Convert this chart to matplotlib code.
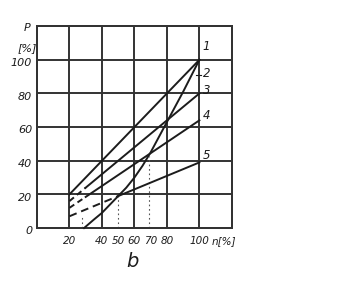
import matplotlib
matplotlib.use("Agg")
import matplotlib.pyplot as plt

# values
n_ends = [20, 30, 50, 100]
p1 = [20, 30, 50, 100]
p3 = [16, 24, 40, 80]
p4 = [12, 18.5, 31.5, 64]
p5 = [7, 11, 19, 39]

n2 = [29, 35, 40, 45, 50, 55, 60, 65, 70, 80, 90, 100]
p2 = [0, 5, 9, 14, 19, 24, 30, 37, 45, 63, 81, 100]

# (n, top of dotted drop line)
drops = [(28, 8), (50, 19), (69, 43)]

x_ticks = [20, 40, 50, 60, 70, 80, 100]
y_ticks = [0, 20, 40, 60, 80, 100]
line_names = ["1", "2", "3", "4", "5"]

ink = "#1c1c1c"
font = dict(family="DejaVu Sans", style="italic", color=ink)

fig = plt.figure(figsize=(3.42, 2.84), dpi=100)
ax = fig.add_axes([0.108, 0.197, 0.57, 0.711])
ax.set_xlim(0, 120)
ax.set_ylim(0, 120)

for v in range(0, 121, 20):
    ax.axvline(v, color="#333333", lw=1.4, zorder=1)
    ax.axhline(v, color="#333333", lw=1.4, zorder=1)
for s in ax.spines.values():
    s.set_color("#333333")
    s.set_linewidth(1.4)

ax.set_xticks([])
ax.set_yticks([])

lw = 1.4
# line 1, solid
ax.plot(n_ends, p1, color=ink, lw=lw, zorder=3)
# lines 3 and 4, dashed start
for p in (p3, p4):
    ax.plot(n_ends[:2], p[:2], color=ink, lw=lw, ls=(0, (3, 2)), zorder=3)
    ax.plot(n_ends[1:], p[1:], color=ink, lw=lw, zorder=3)
# line 5, dashed up to 50
ax.plot(n_ends[:3], p5[:3], color=ink, lw=lw, ls=(0, (4, 2.5)), zorder=3)
ax.plot(n_ends[2:], p5[2:], color=ink, lw=lw, zorder=3)
# line 2, curve
ax.plot(n2, p2, color=ink, lw=lw, zorder=3)

for n, top in drops:
    ax.plot([n, n], [0, top], color="#555555", lw=0.8, ls=(0, (1.5, 2.5)), zorder=2)

# curve numbers
ends = [p1[-1], p2[-1], p3[-1], p4[-1], p5[-1]]
offs = [8, -8, 2, 3, 4]
for name, e, o in zip(line_names, ends, offs):
    ax.text(102, e + o, name, fontsize=8.5, ha="left", va="center", **font)
ax.plot([98, 101], [91, 91], color=ink, lw=0.8)

for t in y_ticks:
    ax.text(-3, t - 2, str(t), fontsize=8, ha="right", va="center", **font)
for t in x_ticks:
    ax.text(t, -5, str(t), fontsize=7.5, ha="center", va="top", **font)

ax.text(115, -5, "n[%]", fontsize=7.5, ha="center", va="top", **font)
ax.text(-6, 119, "P", fontsize=8, ha="center", va="center", **font)
ax.text(-6, 107, "[%]", fontsize=8, ha="center", va="center", **font)
ax.text(59, -20, "b", fontsize=14, ha="center", va="center", **font)

for ln in ax.lines:
    ln.set_clip_on(False)

fig.savefig("out.png", dpi=100, facecolor="white")
